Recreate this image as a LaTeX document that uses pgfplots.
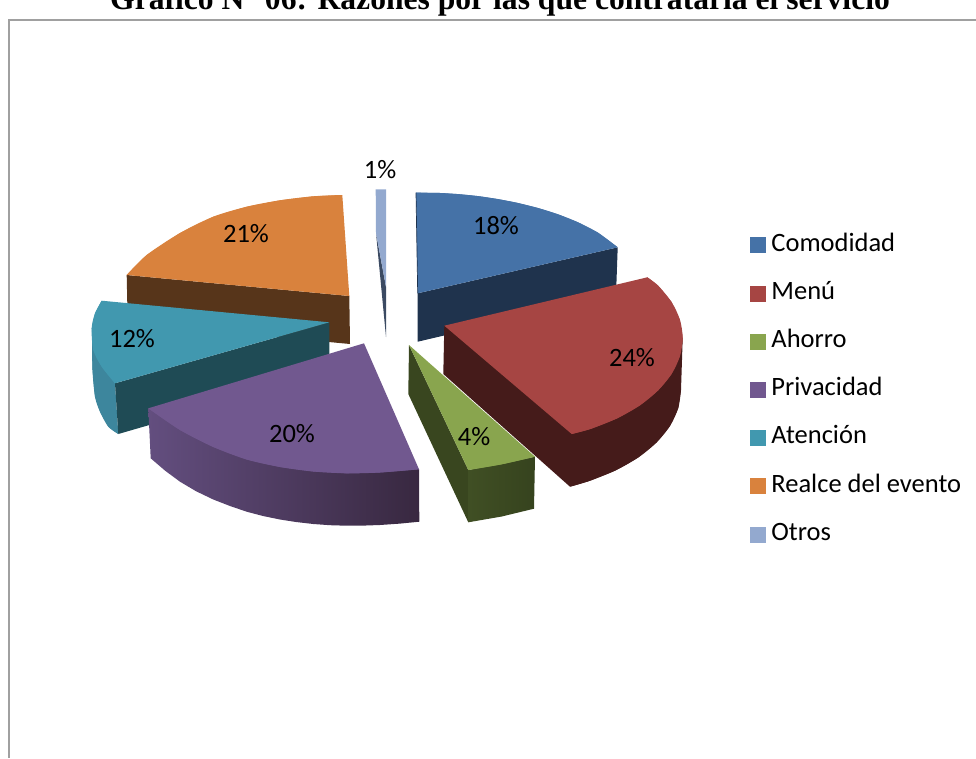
\documentclass[border=0pt]{standalone}
\usepackage{fontspec}
\setmainfont{Carlito}
\newfontfamily\titlefont{Liberation Serif}
\usepackage{pgfplots}
\pgfplotsset{compat=1.18}

% Series colours of the pie
\definecolor{cBlue}{HTML}{4572A7}
\definecolor{cBlueS}{HTML}{1F334D}
\definecolor{cRed}{HTML}{A64543}
\definecolor{cRedS}{HTML}{451B1A}
\definecolor{cGreen}{HTML}{89A54E}
\definecolor{cGreenS}{HTML}{39461F}
\definecolor{cGreenA}{HTML}{404F24}
\definecolor{cGreenB}{HTML}{36431E}
\definecolor{cPurple}{HTML}{71588F}
\definecolor{cPurpleA}{HTML}{634E7F}
\definecolor{cPurpleB}{HTML}{382840}
\definecolor{cTeal}{HTML}{4198AF}
\definecolor{cTealS}{HTML}{1F4B55}
\definecolor{cTealO}{HTML}{3D869D}
\definecolor{cOrange}{HTML}{D9823D}
\definecolor{cOrangeS}{HTML}{57351A}
\definecolor{cLight}{HTML}{93A9CF}
\definecolor{cLightS}{HTML}{3B4A62}
\definecolor{cFrame}{HTML}{A0A0A0}

\newcommand{\lab}{\fontsize{26.5}{30}\selectfont}
\newcommand{\swatch}[1]{\addlegendimage{legend image code/.code={\fill[#1] (0pt,-7.5pt) rectangle (15pt,7.5pt);}}}
\newcommand{\entry}[1]{\addlegendentry{\hspace*{6pt}#1}}

\begin{document}
\begin{tikzpicture}[x=1pt,y=1pt]
\useasboundingbox (0,0) rectangle (976,758);
\clip (0,0) rectangle (976,758);
\begin{axis}[
  at={(0,0)}, anchor=south west,
  scale only axis, width=976pt, height=758pt,
  xmin=0, xmax=976, ymin=0, ymax=758, y dir=reverse,
  axis lines=none, clip=false,
  legend cell align=left,
  legend style={
    at={(axis cs:750,221)}, anchor=north west,
    draw=none, fill=none, inner sep=0pt, outer sep=0pt,
    font=\lab, row sep=0pt,
    nodes={inner sep=0pt, outer sep=0pt, text height=30pt, text depth=18.2pt},
  },
]
% chart frame
\addplot[forget plot, cFrame, line width=2pt] coordinates {(8.7,758) (8.7,20) (976,20)};

% Comodidad: side, then top as a polygon with its rounded rim over it
\addplot[forget plot, draw=none, fill=cBlueS] coordinates {(417.7,293.3) (617.7,247.3) (616,295) (417.7,341.7)};
\addplot[forget plot, fill=cBlue, draw=none] coordinates {(417.7,293.3) (416,192.7) (438,192.9) (458,194.1) (478,196.1) (498,199.1) (518,203) (538,208) (558,214.3) (578,222.3) (598,232.7) (617.7,247.3)};
\addplot[forget plot, fill=cBlue, draw=none, smooth] coordinates {(416,192.7) (438,192.9) (458,194.1) (478,196.1) (498,199.1) (518,203) (538,208) (558,214.3) (578,222.3) (598,232.7) (617.7,247.3)};
\addplot[forget plot, cBlueS, line width=.7pt] coordinates {(416,192.7) (417.7,293.3)};

% Realce del evento
\addplot[forget plot, draw=none, fill=cOrangeS] coordinates {(126.7,275) (349.3,296) (350,344) (127.7,323)};
\addplot[forget plot, fill=cOrange, draw=none] coordinates {(349.3,296) (342.3,195) (313.3,196.3) (280,200.3) (246.7,206.7) (213.3,216.7) (180,233) (146.7,255) (126.7,275)};
\addplot[forget plot, fill=cOrange, draw=none, smooth] coordinates {(342.3,195) (313.3,196.3) (280,200.3) (246.7,206.7) (213.3,216.7) (180,233) (146.7,255) (126.7,275)};

% Otros
\addplot[forget plot, draw=none, fill=cLightS] coordinates {(376,233) (386,287) (386,337)};
\addplot[forget plot, draw=none, fill=cLight] coordinates {(375.7,189.3) (386,189.3) (386,287) (376,233)};

% Atención
\addplot[forget plot, draw=none, fill=cTealO] coordinates {(92,335) (92.5,370) (95,396.7) (100,411.7) (108.3,426.7) (118.3,434) (115,383.3)};
\addplot[forget plot, draw=none, fill=cTealO, smooth] coordinates {(92,335) (92.5,370) (95,396.7) (100,411.7) (108.3,426.7) (118.3,434)};
\addplot[forget plot, draw=none, fill=cTealS] coordinates {(115,383.3) (329.3,322.3) (329.3,372.8) (118.3,434)};
\addplot[forget plot, fill=cTeal, draw=none] coordinates {(329.3,322.3) (101.7,300.7) (95,313.3) (91.7,328.3) (93.3,350) (101.7,366.7) (115,383.3)};
\addplot[forget plot, fill=cTeal, draw=none, smooth] coordinates {(101.7,300.7) (95,313.3) (91.7,328.3) (93.3,350) (101.7,366.7) (115,383.3)};

% Menú
\addplot[forget plot, draw=none, fill=cRedS] coordinates {(444.3,325.7) (443.3,374) (570,486.7) (589.5,480.9) (615.6,470.4) (638.2,457.5) (656.5,442.5) (670,425.9) (678.2,408.2) (681,390) (682.7,338)};
\addplot[forget plot, draw=none, fill=cRedS, smooth] coordinates {(570,486.7) (589.5,480.9) (615.6,470.4) (638.2,457.5) (656.5,442.5) (670,425.9) (678.2,408.2) (681,390)};
\addplot[forget plot, fill=cRed, draw=none] coordinates {(444.3,325.7) (647.3,277.3) (658,285.5) (671.6,302.1) (679.9,319.8) (682.7,338) (679.9,356.2) (671.6,373.9) (658,390.5) (639.7,405.5) (617,418.4) (590.7,428.9) (571.7,434)};
\addplot[forget plot, fill=cRed, draw=none, smooth] coordinates {(647.3,277.3) (658,285.5) (671.6,302.1) (679.9,319.8) (682.7,338) (679.9,356.2) (671.6,373.9) (658,390.5) (639.7,405.5) (617,418.4) (590.7,428.9) (571.7,434)};

% Ahorro
\addplot[forget plot, draw=none, fill=cGreenS] coordinates {(409,345) (408.3,394) (468.3,522.3) (468.3,470)};
\addplot[forget plot, draw=none, left color=cGreenA, right color=cGreenB] coordinates {(468.3,470) (535,456.7) (534,508.7) (501.7,516.5) (468.3,522.3)};
\addplot[forget plot, fill=cGreen, draw=none] coordinates {(409,345) (468.3,470) (501.7,464.3) (535,456.7)};
\addplot[forget plot, fill=cGreen, draw=none, smooth] coordinates {(468.3,470) (501.7,464.3) (535,456.7)};

% Privacidad
\addplot[forget plot, draw=none, left color=cPurpleA, right color=cPurpleB] coordinates {(148.3,408.3) (150.7,458.3) (165,470.6) (180,481.7) (196,491.2) (213.3,499.5) (230,506) (246.7,511.7) (263,516) (280,519.5) (296,522) (313.3,524) (330,525.2) (346.7,525.7) (363,525.6) (380,525) (400,523.6) (419.3,521.7) (419,469.3)};
\addplot[forget plot, fill=cPurple, draw=none] coordinates {(364,343.3) (148.3,408.3) (180,430) (213.3,447) (246.7,459.5) (280,467) (313.3,471.5) (346.7,473.3) (380,472.5) (419,469.3)};
\addplot[forget plot, fill=cPurple, draw=none, smooth] coordinates {(148.3,408.3) (180,430) (213.3,447) (246.7,459.5) (280,467) (313.3,471.5) (346.7,473.3) (380,472.5) (419,469.3)};

% legend entries
\swatch{cBlue}\entry{Comodidad}
\swatch{cRed}\entry{Menú}
\swatch{cGreen}\entry{Ahorro}
\swatch{cPurple}\entry{Privacidad}
\swatch{cTeal}\entry{Atención}
\swatch{cOrange}\entry{Realce del evento}
\swatch{cLight}\entry{Otros}

% percentages on the slices
\node[font=\lab] at (axis cs:380,170) {1\%};
\node[font=\lab] at (axis cs:496,226) {18\%};
\node[font=\lab] at (axis cs:632,358) {24\%};
\node[font=\lab] at (axis cs:474,437) {4\%};
\node[font=\lab] at (axis cs:292,434) {20\%};
\node[font=\lab] at (axis cs:132,339) {12\%};
\node[font=\lab] at (axis cs:246,234) {21\%};

% heading, cut by the top edge
\node[anchor=base, font=\titlefont\bfseries\fontsize{31.6}{34}\selectfont] at (axis cs:500,9) {Gráfico N° 06: Razones por las que contrataría el servicio};
\end{axis}
\end{tikzpicture}
\end{document}
